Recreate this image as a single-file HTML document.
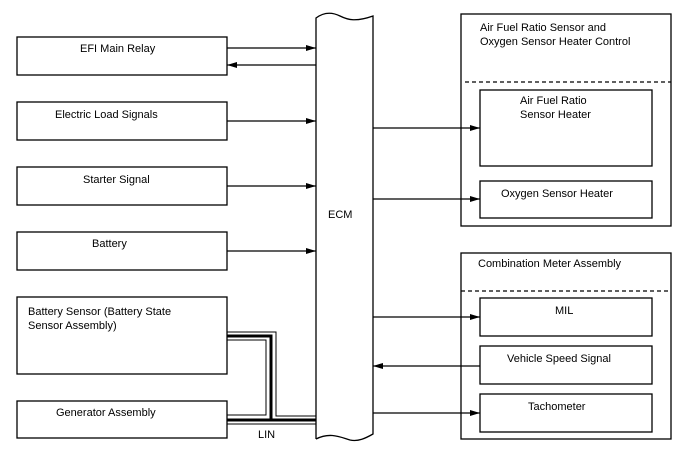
<!DOCTYPE html>
<html><head><meta charset="utf-8"><style>
html,body{margin:0;padding:0;background:#fff;}
svg{display:block;}
text{font-family:"Liberation Sans",Arial,sans-serif;font-size:11px;fill:#000;}
</style></head><body>
<svg width="688" height="463" viewBox="0 0 688 463" xmlns="http://www.w3.org/2000/svg">
<defs>
<marker id="a" markerWidth="10" markerHeight="6" refX="10" refY="3" orient="auto" markerUnits="userSpaceOnUse">
<path d="M0,0 L10,3 L0,6 z" fill="#000"/></marker>
</defs>
<g fill="none" stroke="#000" stroke-width="1.3">
<!-- ECM -->
<path d="M316,439 L316,18 C324,12 332,12 340,16 C348,20 356,22 373,16 L373,434 C366,438 358,442 350,440 C340,437 330,432 316,439" fill="#fff"/>
<!-- left boxes -->
<rect x="17" y="37" width="210" height="38"/>
<rect x="17" y="102" width="210" height="38"/>
<rect x="17" y="167" width="210" height="38"/>
<rect x="17" y="232" width="210" height="38"/>
<rect x="17" y="297" width="210" height="77"/>
<rect x="17" y="401" width="210" height="37"/>
<!-- right groups -->
<rect x="461" y="14" width="210" height="212"/>
<rect x="480" y="90" width="172" height="76"/>
<rect x="480" y="181" width="172" height="37"/>
<rect x="461" y="253" width="210" height="186"/>
<rect x="480" y="298" width="172" height="38"/>
<rect x="480" y="346" width="172" height="38"/>
<rect x="480" y="394" width="172" height="38"/>
</g>
<g stroke="#000" stroke-width="1.3" stroke-dasharray="4,3">
<line x1="465" y1="82" x2="671" y2="82"/>
<line x1="461" y1="291" x2="671" y2="291"/>
</g>
<g stroke="#000" stroke-width="1.3" fill="none">
<line x1="227" y1="48" x2="316" y2="48" marker-end="url(#a)"/>
<line x1="316" y1="65" x2="227" y2="65" marker-end="url(#a)"/>
<line x1="227" y1="121" x2="316" y2="121" marker-end="url(#a)"/>
<line x1="227" y1="186" x2="316" y2="186" marker-end="url(#a)"/>
<line x1="227" y1="251" x2="316" y2="251" marker-end="url(#a)"/>
<line x1="373" y1="128" x2="480" y2="128" marker-end="url(#a)"/>
<line x1="373" y1="199" x2="480" y2="199" marker-end="url(#a)"/>
<line x1="373" y1="317" x2="480" y2="317" marker-end="url(#a)"/>
<line x1="480" y1="366" x2="373" y2="366" marker-end="url(#a)"/>
<line x1="373" y1="413" x2="480" y2="413" marker-end="url(#a)"/>
<!-- LIN bundle -->
<path d="M227,332 L276,332 L276,416 L316,416" stroke-width="1"/>
<path d="M227,336 L271,336 L271,420 L227,420 M271,420 L316,420" stroke-width="3"/>
<path d="M227,340 L266,340 L266,415 L227,415" stroke-width="1"/>
<path d="M227,424 L316,424" stroke-width="1"/>
</g>
<text x="80" y="52">EFI Main Relay</text>
<text x="55" y="118">Electric Load Signals</text>
<text x="83" y="183">Starter Signal</text>
<text x="92" y="247">Battery</text>
<text x="28" y="315">Battery Sensor (Battery State</text>
<text x="28" y="329">Sensor Assembly)</text>
<text x="56" y="416">Generator Assembly</text>
<text x="258" y="438">LIN</text>
<text x="328" y="218">ECM</text>
<text x="480" y="31">Air Fuel Ratio Sensor and</text>
<text x="480" y="45">Oxygen Sensor Heater Control</text>
<text x="520" y="104">Air Fuel Ratio</text>
<text x="520" y="118">Sensor Heater</text>
<text x="501" y="197">Oxygen Sensor Heater</text>
<text x="478" y="267">Combination Meter Assembly</text>
<text x="555" y="314">MIL</text>
<text x="507" y="362">Vehicle Speed Signal</text>
<text x="528" y="410">Tachometer</text>
</svg>
</body></html>
